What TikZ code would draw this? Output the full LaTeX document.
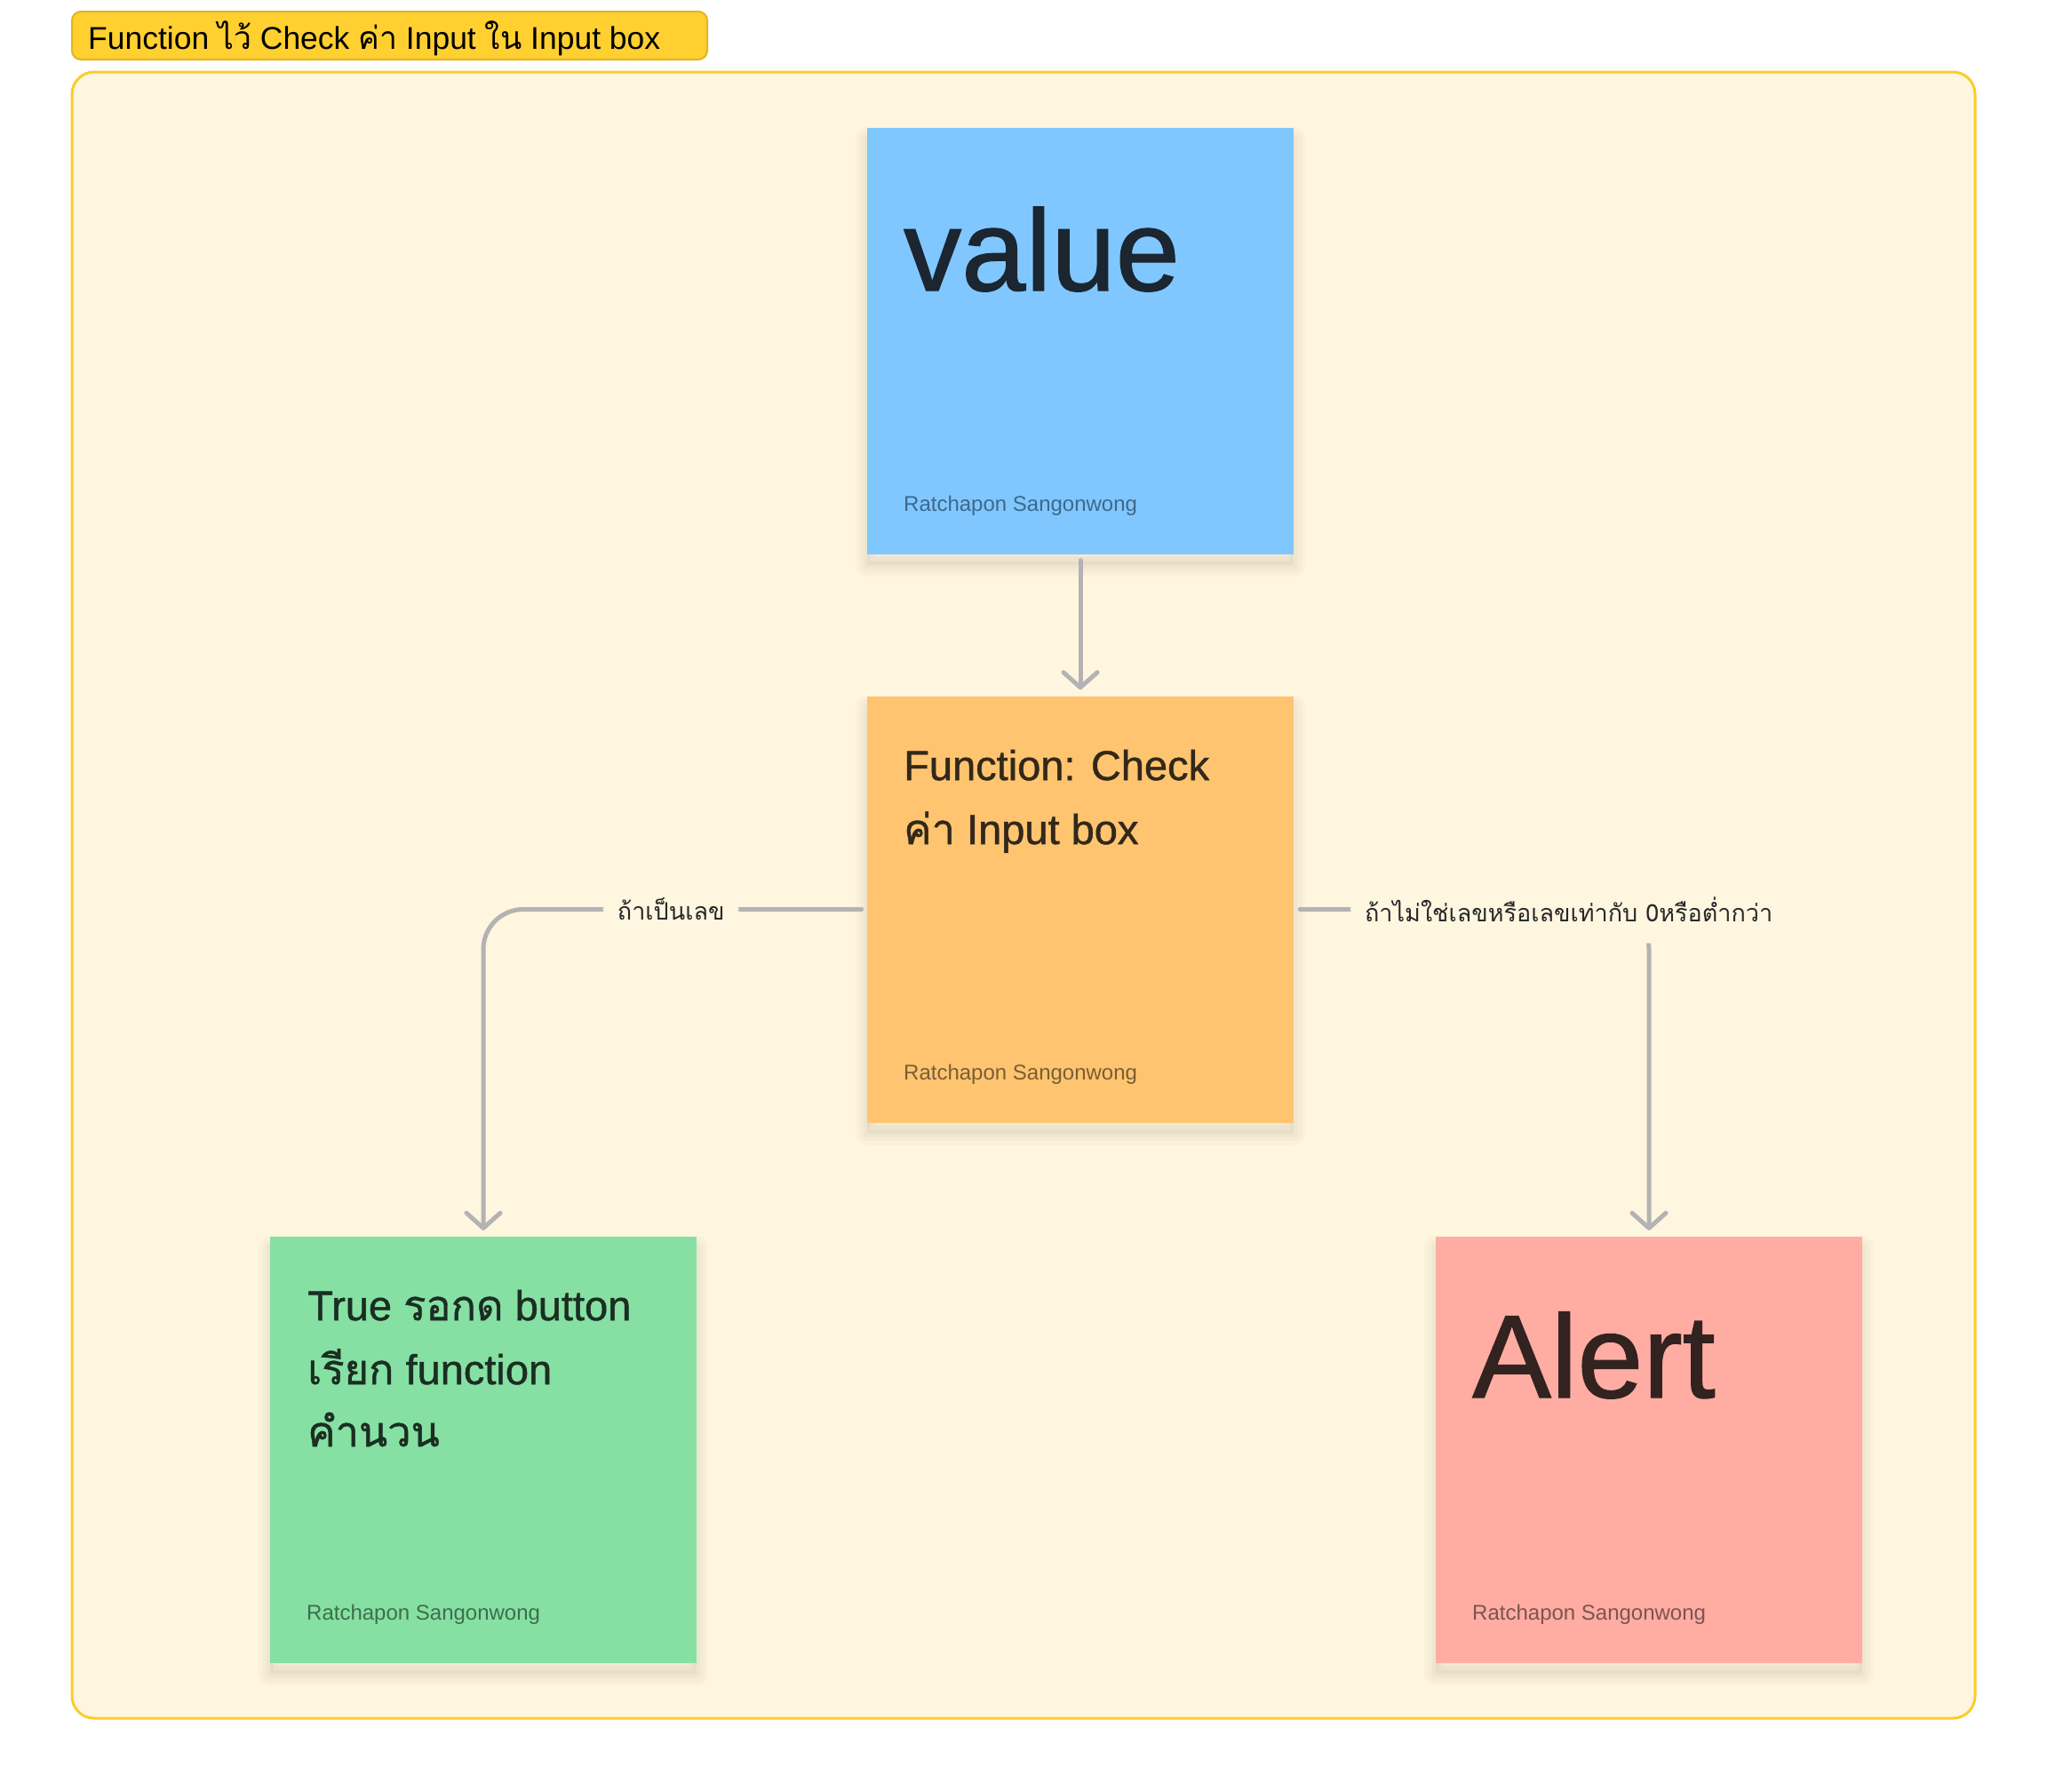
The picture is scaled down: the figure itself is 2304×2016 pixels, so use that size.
\documentclass[tikz,border=0pt]{standalone}
\usepackage{fontspec}
\setmainfont{Liberation Sans}
\newfontfamily\medfont[FakeBold=1]{Liberation Sans}
\newfontfamily\thaifont[Script=Thai]{Loma}
\newfontfamily\thaimed[Script=Thai, FakeBold=1]{Loma}
\newcommand\thaitext[1]{{\thaifont #1}}
\newcommand\thaimedtext[1]{{\thaimed #1}}
\usetikzlibrary{arrows.meta}
\definecolor{framebg}{RGB}{255,246,224}
\definecolor{frameline}{RGB}{252,204,42}
\definecolor{tabfill}{RGB}{255,208,47}
\definecolor{tabline}{RGB}{226,180,34}
\definecolor{conngray}{RGB}{179,179,179}
\definecolor{bluefill}{RGB}{128,199,255}
\definecolor{bluetext}{RGB}{27,38,49}
\definecolor{blueauth}{RGB}{62,104,140}
\definecolor{orangefill}{RGB}{255,196,112}
\definecolor{orangetext}{RGB}{50,40,26}
\definecolor{orangeauth}{RGB}{122,94,52}
\definecolor{greenfill}{RGB}{134,224,163}
\definecolor{greentext}{RGB}{27,46,34}
\definecolor{greenauth}{RGB}{62,110,78}
\definecolor{redfill}{RGB}{255,173,163}
\definecolor{redtext}{RGB}{51,35,32}
\definecolor{redauth}{RGB}{125,84,80}
\definecolor{labeltext}{RGB}{40,40,40}
\tikzset{
  sticky/.style={minimum width=480pt, minimum height=480pt, inner sep=0pt, draw=none,
    preaction={draw=black, draw opacity=0.018, line width=26pt, line join=round, transform canvas={yshift=-12pt}},
    preaction={draw=black, draw opacity=0.02, line width=17pt, line join=round, transform canvas={yshift=-12pt}},
    preaction={draw=black, draw opacity=0.022, line width=8pt, line join=round, transform canvas={yshift=-12pt}},
    preaction={fill=black, fill opacity=0.03, transform canvas={yshift=-12pt}}},
  txt/.style={inner sep=0pt, anchor=base west},
  bigtxt/.style={txt, font=\medfont\fontsize{130}{150}\selectfont},
  midtxt/.style={txt, font=\medfont\fontsize{47}{60}\selectfont},
  authtxt/.style={txt, font=\fontsize{24}{28}\selectfont},
  conn/.style={draw=conngray, line width=5pt, line cap=round, line join=round,
    -{Straight Barb[length=17pt, width=38pt, round]}},
  lbl/.style={fill=framebg, inner xsep=16pt, inner ysep=0pt, minimum height=76pt,
    text=labeltext, font=\thaifont\fontsize{27}{32}\selectfont},
}
\begin{document}
\begin{tikzpicture}[x=1pt, y=-1pt]
\useasboundingbox[fill=white] (0,0) rectangle (2304,2016);
% frame
\node[draw=frameline, fill=framebg, line width=3pt, rounded corners=25pt,
  minimum width=2142pt, minimum height=1853pt, inner sep=0pt] (frame) at (1152,1007.5) {};
% title tab
\node[draw=tabline, fill=tabfill, line width=2pt, rounded corners=10pt,
  minimum width=715pt, minimum height=54pt, inner sep=0pt] (tab) at (438.5,40) {};
\node[txt, font=\fontsize{35.5}{40}\selectfont, text=black] (title) at (99,55)
  {Function \thaitext{ไว้} Check \thaitext{ค่า} Input \thaitext{ใน} Input box};
% sticky notes
\node[sticky, fill=bluefill] (value) at (1216,383.5) {};
\node[sticky, fill=orangefill] (check) at (1216,1023.5) {};
\node[sticky, fill=greenfill] (true) at (544,1632) {};
\node[sticky, fill=redfill] (alert) at (1856,1632) {};
% texts
\node[bigtxt, text=bluetext] (valuetxt) at (1017,327) {value};
\node[authtxt, text=blueauth] (valueauth) at (1017,575) {Ratchapon Sangonwong};
\node[midtxt, text=orangetext] (check1) at (1017,878) {Function: Check};
\node[midtxt, text=orangetext] (check2) at (1017,950) {\thaimedtext{ค่า} Input box};
\node[authtxt, text=orangeauth] (checkauth) at (1017,1215) {Ratchapon Sangonwong};
\node[midtxt, text=greentext] (true1) at (346,1486) {True \thaimedtext{รอกด} button};
\node[midtxt, text=greentext] (true2) at (346,1558) {\thaimedtext{เรียก} function};
\node[midtxt, text=greentext] (true3) at (346,1628) {\thaimedtext{คำนวน}};
\node[authtxt, text=greenauth] (trueauth) at (345,1823) {Ratchapon Sangonwong};
\node[bigtxt, text=redtext, font=\medfont\fontsize{133}{150}\selectfont] (alerttxt) at (1657,1573) {Alert};
\node[authtxt, text=redauth] (alertauth) at (1657,1823) {Ratchapon Sangonwong};
% connectors
\draw[conn] ([yshift=-7pt]value.south) -- ([yshift=7pt]check.north);
\draw[conn, rounded corners=45pt] ([xshift=-6pt]check.west) -| ([yshift=7pt]true.north)
  node[lbl, pos=0.252] (lblyes) {ถ้าเป็นเลข};
\draw[conn, rounded corners=45pt] ([xshift=7pt]check.east) -| ([yshift=7pt]alert.north)
  node[lbl, pos=0.385] (lblno) {ถ้าไม่ใช่เลขหรือเลขเท่ากับ 0หรือต่ำกว่า};
\end{tikzpicture}
\end{document}
